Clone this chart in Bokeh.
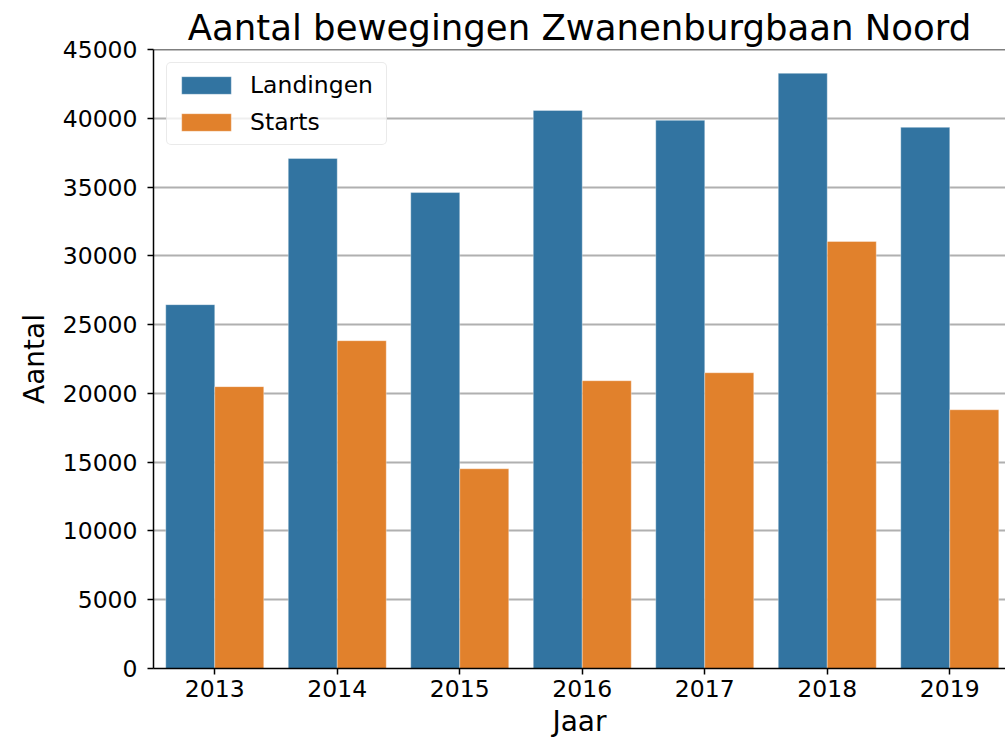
from bokeh.plotting import figure
from bokeh.models import (ColumnDataSource, Range1d, FixedTicker, NumeralTickFormatter,
                          Legend, LegendItem, Span)
from bokeh.transform import dodge
from bokeh.embed import file_html
from bokeh.resources import INLINE

# ---- data ----
years = ["2013", "2014", "2015", "2016", "2017", "2018", "2019"]
landingen = [26450, 37080, 34600, 40570, 39850, 43270, 39340]
starts = [20490, 23830, 14520, 20920, 21500, 31040, 18810]
y_ticks = [0, 5000, 10000, 15000, 20000, 25000, 30000, 35000, 40000, 45000]
series_names = ["Landingen", "Starts"]
colors = ["#3274a1", "#e1812c"]

FONT = "DejaVu Sans"
pos = list(range(len(years)))
src = ColumnDataSource(dict(pos=pos, year=years, landingen=landingen, starts=starts))

p = figure(width=1005, height=740, output_backend="svg", toolbar_location=None,
           x_range=Range1d(-0.5, 6.455), y_range=Range1d(0, y_ticks[-1]),
           min_border_left=153, min_border_right=0, min_border_top=49, min_border_bottom=72)

r1 = p.vbar(x=dodge("pos", -0.2), top="landingen", width=0.4, source=src,
            fill_color=colors[0], line_color="white", line_alpha=0.35, line_width=1)
r2 = p.vbar(x=dodge("pos", 0.2), top="starts", width=0.4, source=src,
            fill_color=colors[1], line_color="white", line_alpha=0.35, line_width=1)

# title
p.title.text = "Aantal bewegingen Zwanenburgbaan Noord"
p.title.align = "center"
p.title.text_font = FONT
p.title.text_font_size = "35.5px"
p.title.text_font_style = "normal"
p.title.text_color = "black"
p.title.standoff = 3

# axes
for ax in (p.xaxis[0], p.yaxis[0]):
    ax.axis_line_color = "black"
    ax.axis_line_width = 1.5
    ax.major_tick_line_color = "black"
    ax.major_tick_line_width = 1.5
    ax.major_tick_out = 6
    ax.major_tick_in = 0
    ax.minor_tick_line_color = None
    ax.major_label_text_font = FONT
    ax.major_label_text_font_size = "23.5px"
    ax.major_label_text_color = "black"
    ax.axis_label_text_font = FONT
    ax.axis_label_text_font_size = "28px"
    ax.axis_label_text_font_style = "normal"
    ax.axis_label_text_color = "black"

p.xaxis.ticker = FixedTicker(ticks=pos)
p.xaxis.major_label_overrides = {i: y for i, y in enumerate(years)}
p.xaxis.axis_label = "Jaar"
p.xaxis.major_label_standoff = 5
p.xaxis.axis_label_standoff = 5

p.yaxis.ticker = FixedTicker(ticks=y_ticks)
p.yaxis.formatter = NumeralTickFormatter(format="0")
p.yaxis.axis_label = "Aantal"
p.yaxis.major_label_standoff = 10
p.yaxis.axis_label_standoff = 9

p.xgrid.visible = False
p.ygrid.grid_line_color = "#b0b0b0"
p.ygrid.grid_line_width = 1.8

p.outline_line_color = None
p.background_fill_color = "white"
p.border_fill_color = "white"

top_spine = Span(location=y_ticks[-1], dimension="width", line_color="black", line_width=1.5)
p.add_layout(top_spine)

legend = Legend(items=[LegendItem(label=series_names[0], renderers=[r1]),
                       LegendItem(label=series_names[1], renderers=[r2])],
                location="top_left", margin=13, padding=8, spacing=9,
                glyph_width=62, glyph_height=22, label_height=22, label_width=128,
                label_standoff=13,
                label_text_font=FONT, label_text_font_size="23.5px", label_text_color="black",
                border_line_color="#d6d6d6", border_line_width=1.5, border_radius=5,
                background_fill_color="white", background_fill_alpha=0.8)
p.add_layout(legend)

open("out.html", "w").write(file_html(p, INLINE))
